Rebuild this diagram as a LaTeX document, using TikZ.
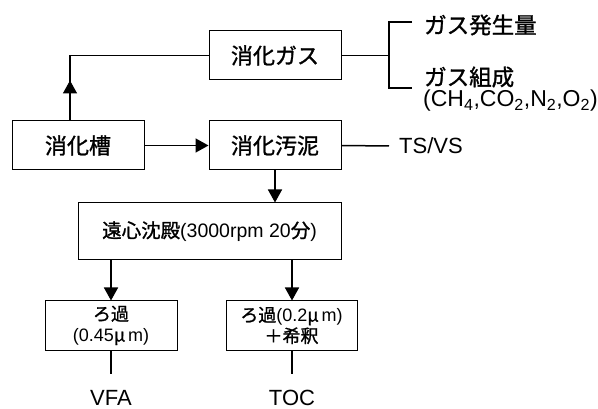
\documentclass[tikz,border=0pt]{standalone}
\usepackage{fontspec}
\setmainfont{Liberation Sans}
\newfontfamily\jp{Noto Sans CJK JP}[FakeBold=1.2]
\usetikzlibrary{arrows.meta,decorations.markings}
\tikzset{
  box/.style={draw, line width=1pt, inner sep=0pt, align=center},
  bigtxt/.style={font=\fontsize{22}{26}\selectfont\jp},
  midtxt/.style={font=\fontsize{19.5}{22}\selectfont},
  smalltxt/.style={font=\fontsize{18}{21}\selectfont},
  lbl/.style={font=\fontsize{22.5}{24}\selectfont, inner sep=0pt},
  conn/.style={line width=1.5pt},
  arr/.style={conn, -{Triangle[width=14pt,length=13pt]}},
  thick2/.style={line width=2.2pt},
}
\begin{document}
\begin{tikzpicture}[x=1pt,y=-1pt]
\useasboundingbox (0,0) rectangle (598,409);
\fill[white] (0,0) rectangle (598,409);

\node[box, bigtxt, minimum width=132pt, minimum height=49pt] (gas) at (275,55.5) {消化ガス};
\node[box, bigtxt, minimum width=132pt, minimum height=49pt] (tank) at (78,145.5) {消化槽};
\node[box, bigtxt, minimum width=132pt, minimum height=49pt] (sludge) at (275,145.5) {消化汚泥};
\node[box, midtxt, minimum width=263pt, minimum height=57pt] (cent) at (209.5,231.5) {{\jp 遠心沈殿}(3000rpm 20{\jp 分})};
\node[box, smalltxt, minimum width=132pt, minimum height=49pt] (f1) at (111,325.5) {{\jp ろ過}\\(0.45{\jp μ}\,m)};
\node[box, smalltxt, minimum width=131pt, minimum height=49pt] (f2) at (291.5,325.5) {{\jp ろ過}(0.2{\jp μ}\,m)\\{\jp ＋希釈}};

\node[lbl, font=\fontsize{22}{24}\selectfont] (vfa) at (111,398) {VFA};
\node[lbl, font=\fontsize{22}{24}\selectfont] (toc) at (292,398) {TOC};
\node[lbl, anchor=west] (amount) at (424,25) {\jp ガス発生量};
\node[lbl, anchor=west] (comp) at (424,77) {\jp ガス組成};
\node[lbl, anchor=west, font=\fontsize{23}{24}\selectfont] (formula) at (423,101) {(CH\textsubscript{4},CO\textsubscript{2},N\textsubscript{2},O\textsubscript{2})};
\node[lbl, anchor=west, font=\fontsize{22}{24}\selectfont] (tsvs) at (399,146) {TS/VS};

\coordinate (up) at (70,55.5);
\coordinate (brk) at (389,55.5);
\coordinate (tsend) at (389,146);
\coordinate (v1) at (111,374);
\coordinate (v2) at (292,374);

% tank -> gas with midway arrowhead
\draw[conn, postaction={decorate}, decoration={markings, mark=at position 40pt with {\arrow{Triangle[width=14pt,length=13pt]}}}]
  (tank.north -| up) -- (up) -- (gas.west);
\draw[arr] (tank.east) -- (sludge.west);
\draw[arr] (sludge.south) -- (sludge.south |- cent.north);
\draw[arr] (cent.south -| f1.north) -- (f1.north);
\draw[arr] (cent.south -| v2) -- (f2.north -| v2);
\draw[thick2] (f1.south) -- (v1);
\draw[thick2] (f2.south -| v2) -- (v2);

\draw[conn] (gas.east) -- (brk);
\draw[thick2] (412,22) -- (389,22) -- (389,88) -- (412,88);
\draw[conn] (sludge.east) -- (tsend);
\end{tikzpicture}
\end{document}
